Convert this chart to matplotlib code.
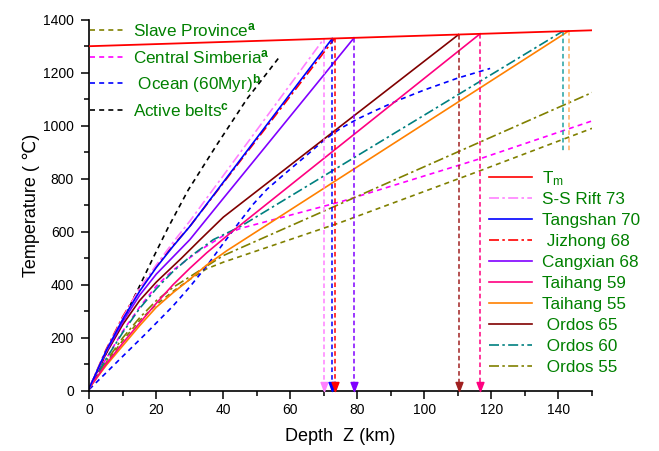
import numpy as np
import matplotlib
matplotlib.use('Agg')
import matplotlib.pyplot as plt
from matplotlib.path import Path
from matplotlib.ticker import MultipleLocator
import matplotlib.transforms as mtransforms

plt.rcParams['font.family'] = ['Liberation Sans', 'DejaVu Sans']
plt.rcParams['mathtext.fontset'] = 'custom'
plt.rcParams['mathtext.rm'] = 'Liberation Sans'
plt.rcParams['mathtext.it'] = 'Liberation Sans'
plt.rcParams['mathtext.bf'] = 'Liberation Sans:bold'

# ---------------- data ----------------
tm_z = [0, 150]
tm_T = [1300, 1360]

slave_z = [0, 5, 10, 15, 20, 25, 30, 35, 40, 75, 116.6, 150]
slave_T = [10, 105, 190, 265, 325, 375, 420, 460, 485, 635, 830, 990]

siberia_z = [0, 5, 10, 15, 20, 25, 33, 40, 45, 75, 117, 150]
siberia_T = [10, 120, 225, 315, 395, 455, 530, 585, 612, 713, 877, 1018]

ocean_z = [0, 10, 17, 25, 30, 35, 40, 45, 49, 53, 58, 65, 70, 75, 80, 85, 92, 100, 110, 119.6]
ocean_T = [5, 130, 217, 320, 392, 470, 556, 640, 705, 760, 815, 890, 945, 990, 1025, 1055, 1095, 1135, 1180, 1216]

active_z = [0, 5, 10, 15, 19, 23.5, 29.5, 38, 47, 56.4]
active_T = [10, 140, 265, 395, 500, 615, 757, 927, 1100, 1254]

ssrift_z = [0, 5, 10, 15, 20, 25, 30, 40, 50, 60, 70]
ssrift_T = [10, 150, 275, 385, 475, 560, 640, 812, 984, 1156, 1328]

tangshan_z = [0, 5, 10, 15, 20, 25, 30, 40, 50, 60, 72.5]
tangshan_T = [10, 150, 270, 375, 465, 545, 620, 787, 954, 1121, 1329]

jizhong_z = [0, 5, 10, 15, 20, 25, 30, 40, 50, 60, 73.2]
jizhong_T = [10, 155, 280, 385, 470, 548, 620, 784, 948, 1112, 1329.3]

cangxian_z = [0, 5, 10, 15, 20, 25, 30, 40, 50, 65, 79]
cangxian_T = [10, 145, 260, 360, 440, 505, 570, 726, 881, 1114, 1331.6]

taihang59_z = [0, 5, 10, 15, 20, 25, 30, 35, 42, 116.6]
taihang59_T = [10, 100, 180, 255, 330, 400, 462, 520, 594, 1346.6]

taihang55_z = [0, 5, 10, 15, 20, 25, 30, 35, 41, 143]
taihang55_T = [10, 95, 170, 245, 315, 370, 420, 474, 528, 1357.2]

ordos65_z = [0, 5, 10, 15, 20, 27.5, 33, 40, 110.2]
ordos65_T = [10, 140, 250, 340, 410, 500, 569, 655, 1344]

ordos60_z = [0, 5, 10, 15, 20, 25, 30, 37, 45, 141.3]
ordos60_T = [10, 120, 220, 310, 385, 450, 505, 570, 619, 1356.5]

ordos55_z = [0, 5, 10, 15, 20, 25, 30, 35, 40, 150]
ordos55_T = [10, 110, 200, 275, 340, 390, 430, 470, 510, 1125]

x_ticks = [0, 20, 40, 60, 80, 100, 120, 140]
y_ticks = [0, 200, 400, 600, 800, 1000, 1200, 1400]

# ---------------- styles ----------------
SHORT = (0, (3, 2.5))
DASHDOT = (0, (6, 2, 1.5, 2))
VDASH = (0, (3, 2))
GREEN = '#008000'
CUT_T = 900  # vertical lines hidden below this temperature by legend region

fig = plt.figure(figsize=(6.59, 4.51), dpi=100)
ax = fig.add_axes([0.1355, 0.1337, 0.7628, 0.8226])

lw = 1.2
ax.plot(tm_z, tm_T, color='#FF0000', lw=1.3, zorder=4)
ax.plot(slave_z, slave_T, color='#808000', ls=SHORT, lw=lw)
ax.plot(siberia_z, siberia_T, color='#FF00FF', ls=SHORT, lw=lw)
ax.plot(ocean_z, ocean_T, color='#0000FF', ls=SHORT, lw=lw)
ax.plot(active_z, active_T, color='#000000', ls=SHORT, lw=lw)
ax.plot(ordos55_z, ordos55_T, color='#808000', ls=DASHDOT, lw=lw)
ax.plot(ordos60_z, ordos60_T, color='#008080', ls=DASHDOT, lw=lw)
ax.plot(ordos65_z, ordos65_T, color='#800000', lw=lw)
ax.plot(taihang55_z, taihang55_T, color='#FF8000', lw=lw)
ax.plot(taihang59_z, taihang59_T, color='#FF0080', lw=lw)
ax.plot(cangxian_z, cangxian_T, color='#8000FF', lw=lw)
ax.plot(jizhong_z, jizhong_T, color='#FF0000', ls=DASHDOT, lw=lw)
ax.plot(ssrift_z, ssrift_T, color='#FF80FF', ls=DASHDOT, lw=lw)
ax.plot(tangshan_z, tangshan_T, color='#0000FF', lw=lw)

# vertical arrows at intersections with Tm
arrow = Path([(0, 0), (-0.38, 1), (0.38, 1), (0, 0)],
             [Path.MOVETO, Path.LINETO, Path.LINETO, Path.CLOSEPOLY])
arrowed = [(ssrift_z, ssrift_T, '#FF80FF'), (tangshan_z, tangshan_T, '#0000FF'),
           (jizhong_z, jizhong_T, '#FF0000'), (cangxian_z, cangxian_T, '#8000FF'),
           (ordos65_z, ordos65_T, '#A02020'), (taihang59_z, taihang59_T, '#FF0080')]
for zz, TT, c in arrowed:
    ax.plot([zz[-1], zz[-1]], [TT[-1], 0], color=c, ls=VDASH, lw=1.1, zorder=3)
    ax.plot([zz[-1]], [0], marker=arrow, ms=13, color=c, mec=c, clip_on=False, zorder=6)
for zz, TT, c in [(ordos60_z, ordos60_T, '#20A0A0'), (taihang55_z, taihang55_T, '#FFB060')]:
    ax.plot([zz[-1], zz[-1]], [TT[-1], CUT_T], color=c, ls=VDASH, lw=1.1, zorder=3)

ax.set_xlim(0, 150)
ax.set_ylim(0, 1400)
ax.set_xticks(x_ticks)
ax.set_yticks(y_ticks)
ax.xaxis.set_minor_locator(MultipleLocator(10))
ax.yaxis.set_minor_locator(MultipleLocator(100))
ax.tick_params(which='major', direction='out', length=6, width=1.1, labelsize=10)
ax.tick_params(axis='x', which='major', pad=3)
ax.tick_params(axis='y', which='major', pad=5)
ax.tick_params(which='minor', direction='out', length=3.5, width=1.1)
for s in ['top', 'right']:
    ax.spines[s].set_visible(False)
for s in ['left', 'bottom']:
    ax.spines[s].set_linewidth(1.2)

ax.set_xlabel('Depth  Z (km)', fontsize=13, labelpad=8)
ax.set_ylabel('Temperature ( \u2103)', fontsize=13, labelpad=2)

# ---------------- manual legends ----------------
H = 371.0  # axes height in px
W = 502.7  # axes width in px
def ax_y(py):
    return (390.7 - py) / H
def ax_x(px):
    return (px - 89.3) / W

fs = 12.3
base_tr = mtransforms.offset_copy(ax.transAxes, fig, y=-0.716 * fs / 2, units='points')

upper = [('Slave Province$^{\\mathbf{a}}$', '#808000', SHORT),
         ('Central Simberia$^{\\mathbf{a}}$', '#FF00FF', SHORT),
         (' Ocean (60Myr)$^{\\mathbf{b}}$', '#0000FF', SHORT),
         ('Active belts$^{\\mathbf{c}}$', '#000000', SHORT)]
for i, (lab, c, ls) in enumerate(upper):
    py = 30 + 26.7 * i
    ax.plot([ax_x(90.5), ax_x(125)], [ax_y(py)] * 2, transform=ax.transAxes,
            color=c, ls=ls, lw=lw, clip_on=False)
    ax.text(ax_x(133.3), ax_y(py), lab, transform=base_tr, color=GREEN,
            fontsize=fs, va='baseline', ha='left')

lower = [('T$_{\\mathrm{m}}$', '#FF0000', '-'),
         ('S-S Rift 73', '#FF80FF', DASHDOT),
         ('Tangshan 70', '#0000FF', '-'),
         (' Jizhong 68', '#FF0000', DASHDOT),
         ('Cangxian 68', '#8000FF', '-'),
         ('Taihang 59', '#FF0080', '-'),
         ('Taihang 55', '#FF8000', '-'),
         (' Ordos 65', '#800000', '-'),
         (' Ordos 60', '#008080', DASHDOT),
         (' Ordos 55', '#808000', DASHDOT)]
for i, (lab, c, ls) in enumerate(lower):
    py = 176.7 + 21.0 * i
    ax.plot([ax_x(489.5), ax_x(532)], [ax_y(py)] * 2, transform=ax.transAxes,
            color=c, ls=ls, lw=lw, clip_on=False)
    ax.text(ax_x(542.5), ax_y(py), lab, transform=base_tr, color=GREEN,
            fontsize=fs, va='baseline', ha='left')

fig.savefig('out.png', dpi=100)
